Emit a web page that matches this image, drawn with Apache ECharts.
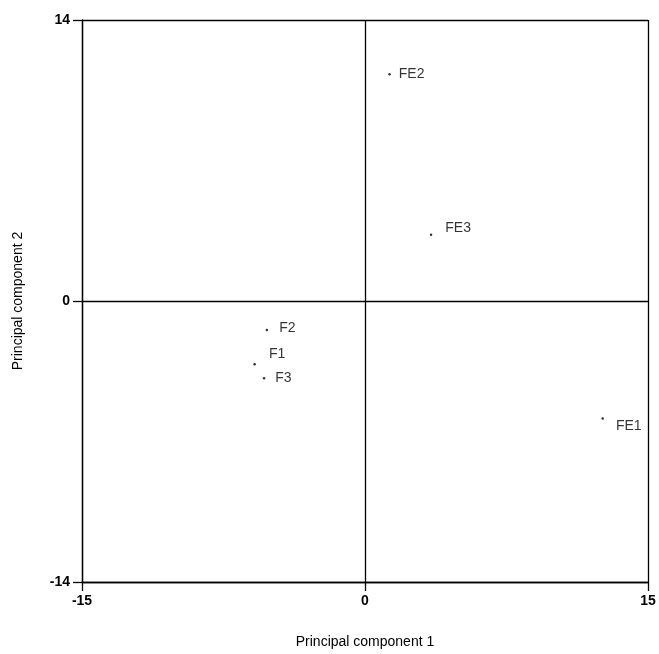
<!DOCTYPE html>
<html>
<head>
<meta charset="utf-8">
<script src="https://cdn.jsdelivr.net/npm/echarts@6/dist/echarts.min.js"></script>
<style>
  html, body { margin: 0; padding: 0; background: #fff; }
  #chart { width: 659px; height: 654px; }
</style>
</head>
<body>
<div id="chart"></div>
<script>
// Sample names and their scores on the first two principal components
const sampleNames = ['FE2', 'FE3', 'FE1', 'F2', 'F1', 'F3'];
const pc1Scores = [1.3, 3.5, 12.6, -5.2, -5.85, -5.35];
const pc2Scores = [11.3, 3.3, -5.85, -1.45, -3.15, -3.85];

const xTicks = [-15, 0, 15];
const yTicks = [-14, 0, 14];

// Where each name sits relative to its point (pixels)
const labelShift = {
  FE2: [8, 0], FE3: [13, -7], FE1: [12, 8],
  F2: [11, -2], F1: [13, -10], F3: [10, 0]
};

const font = 'Liberation Sans, Arial, sans-serif';
const chart = echarts.init(document.getElementById('chart'), null, { renderer: 'canvas' });

const points = sampleNames.map((n, i) => ({
  name: n,
  value: [pc1Scores[i], pc2Scores[i]],
  label: { offset: labelShift[n] }
}));

const axisCommon = {
  axisLine: { show: true, onZero: false, lineStyle: { color: '#000', width: 1.3 } },
  axisTick: { show: true, length: 9, lineStyle: { color: '#000', width: 1.3 } },
  splitLine: { show: true, lineStyle: { color: '#000', width: 1.3 } },
  nameTextStyle: { fontFamily: font, fontSize: 14, color: '#000' }
};

chart.setOption({
  animation: false,
  backgroundColor: '#fff',
  grid: { left: 82, top: 20, width: 566, height: 566 },
  xAxis: Object.assign({}, axisCommon, {
    type: 'value',
    min: xTicks[0], max: xTicks[2], interval: 15,
    name: 'Principal component 1',
    nameLocation: 'middle', nameGap: 53,
    axisLabel: { margin: 12, fontFamily: font, fontSize: 14, fontWeight: 'bold', color: '#000',
      formatter: v => xTicks.includes(v) ? String(v) : '' }
  }),
  yAxis: Object.assign({}, axisCommon, {
    type: 'value',
    min: yTicks[0], max: yTicks[2], interval: 14,
    name: 'Principal component 2',
    nameLocation: 'middle', nameGap: 57,
    axisLabel: { margin: 12, fontFamily: font, fontSize: 14, fontWeight: 'bold', color: '#000',
      formatter: v => yTicks.includes(v) ? String(v) : '' }
  }),
  series: [{
    type: 'scatter',
    symbol: 'circle',
    symbolSize: 2.5,
    itemStyle: { color: '#000' },
    label: {
      show: true,
      position: 'right',
      distance: 0,
      formatter: '{b}',
      fontFamily: font,
      fontSize: 14,
      color: '#000'
    },
    data: points
  }]
});
</script>
</body>
</html>
